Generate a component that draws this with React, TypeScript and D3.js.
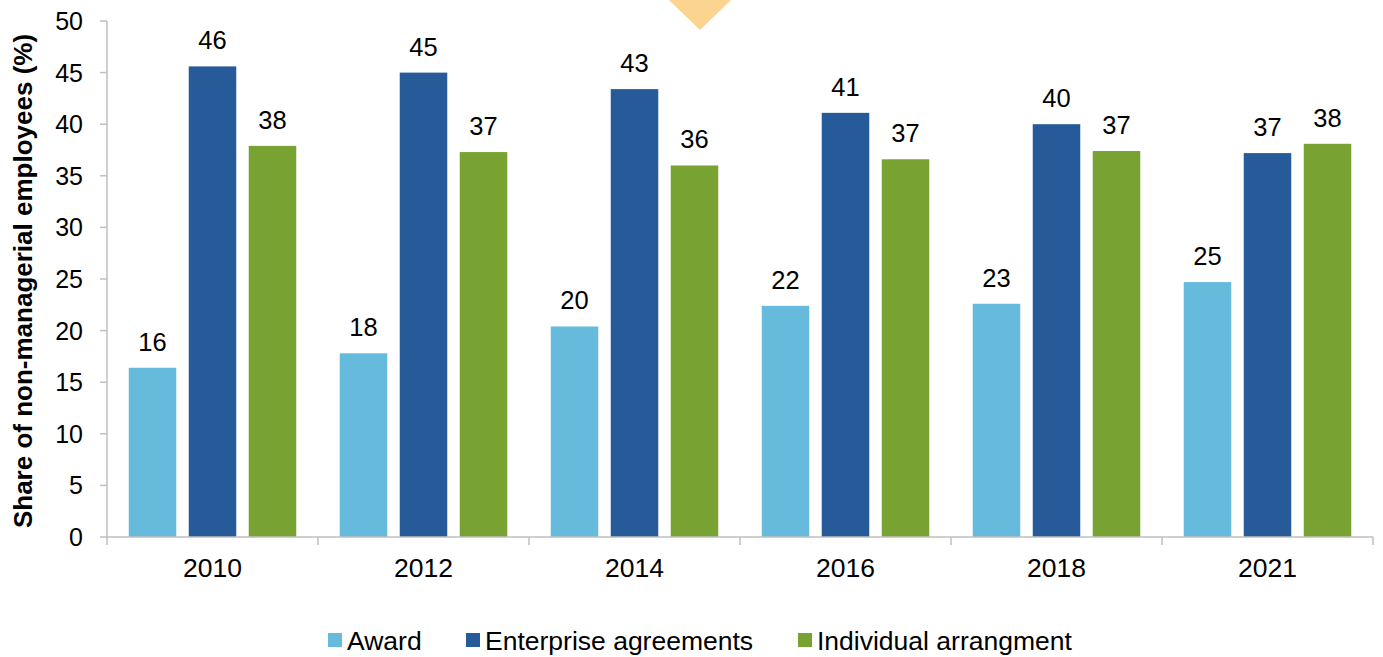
import React from "react";
import * as d3 from "d3";

const years = ["2010", "2012", "2014", "2016", "2018", "2021"];
const seriesNames = ["Award", "Enterprise agreements", "Individual arrangment"];
const award = [16.4, 17.8, 20.4, 22.4, 22.6, 24.7];
const enterprise = [45.6, 45.0, 43.4, 41.1, 40.0, 37.2];
const individual = [37.9, 37.3, 36.0, 36.6, 37.4, 38.1];
const yTicks = [0, 5, 10, 15, 20, 25, 30, 35, 40, 45, 50];
const colors = ["#66BBDC", "#275A99", "#78A232"];

const W = 1383;
const H = 657;
const FONT = "'Liberation Sans', Arial, sans-serif";

export default function App() {
  const left = 107;
  const right = 1373;
  const top = 21;
  const bottom = 537;
  const values = [award, enterprise, individual];

  const x0 = d3.scaleBand<string>().domain(years).range([left, right]).padding(0);
  const x1 = d3
    .scaleBand<string>()
    .domain(seriesNames)
    .range([0, x0.bandwidth()])
    .paddingInner(0.208)
    .paddingOuter(0.3625);
  const y = d3.scaleLinear().domain([0, 50]).range([bottom, top]);

  const axisColor = "#BFBFBF";
  const legendX = [328, 466, 798];
  const legendY = 640;

  return (
    <svg
      width={W}
      height={H}
      style={{ position: "absolute", left: 0, top: 0, background: "#fff" }}
      fontFamily={FONT}
    >
      {/* decorative triangle */}
      <polygon points="669,0 731,0 700,30" fill="#FBD590" />

      {/* bars */}
      {years.map((yr, i) => (
        <g key={yr} transform={`translate(${x0(yr)},0)`}>
          {seriesNames.map((s, j) => {
            const v = values[j][i];
            const bx = x1(s)!;
            const bw = x1.bandwidth();
            return (
              <g key={s}>
                <rect
                  x={bx}
                  y={y(v)}
                  width={bw}
                  height={y(0) - y(v)}
                  fill={colors[j]}
                />
                <text
                  x={bx + bw / 2}
                  y={y(v) - 17}
                  textAnchor="middle"
                  fontSize={25.5}
                  fill="#000"
                >
                  {Math.round(v)}
                </text>
              </g>
            );
          })}
        </g>
      ))}

      {/* y axis */}
      <line x1={left} x2={left} y1={top} y2={bottom} stroke={axisColor} strokeWidth={1.5} />
      {yTicks.map((t) => (
        <g key={t}>
          <line x1={left - 7} x2={left} y1={y(t)} y2={y(t)} stroke={axisColor} strokeWidth={1.5} />
          <text x={83} y={y(t)} dy="0.36em" textAnchor="end" fontSize={25} fill="#000">
            {t}
          </text>
        </g>
      ))}

      {/* x axis */}
      <line x1={left} x2={right} y1={bottom} y2={bottom} stroke={axisColor} strokeWidth={1.5} />
      {years.map((yr) => (
        <line
          key={"t" + yr}
          x1={x0(yr)}
          x2={x0(yr)}
          y1={bottom}
          y2={bottom + 8}
          stroke={axisColor}
          strokeWidth={1.5}
        />
      ))}
      <line x1={right} x2={right} y1={bottom} y2={bottom + 8} stroke={axisColor} strokeWidth={1.5} />
      {years.map((yr) => (
        <text
          key={"l" + yr}
          x={x0(yr)! + x0.bandwidth() / 2}
          y={577}
          textAnchor="middle"
          fontSize={26.5}
          fill="#000"
        >
          {yr}
        </text>
      ))}

      {/* y axis title */}
      <text
        transform={`translate(32,${(top + bottom) / 2 + 2}) rotate(-90)`}
        textAnchor="middle"
        fontSize={26}
        fontWeight="bold"
        fill="#000"
      >
        Share of non-managerial employees (%)
      </text>

      {/* legend */}
      {seriesNames.map((s, j) => (
        <g key={"lg" + s} transform={`translate(${legendX[j]},${legendY})`}>
          <rect x={0} y={-7} width={14} height={14} fill={colors[j]} />
          <text x={19} y={0} dy="0.36em" fontSize={26.5} fill="#000">
            {s}
          </text>
        </g>
      ))}
    </svg>
  );
}
